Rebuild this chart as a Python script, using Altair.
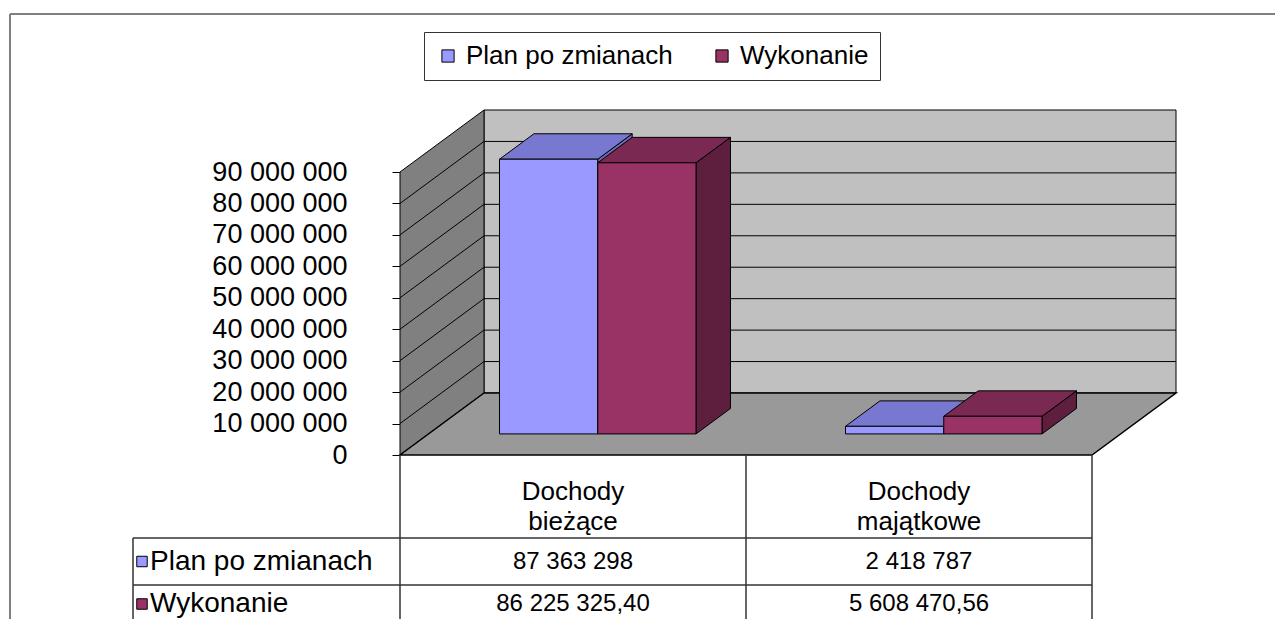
import altair as alt
import pandas as pd

# ---------------- data ----------------
CATEGORIES = ["Dochody bieżące", "Dochody majątkowe"]
SERIES = ["Plan po zmianach", "Wykonanie"]
PLAN = [87363298, 2418787]
WYKONANIE = [86225325.40, 5608470.56]
Y_TICKS = [0, 10000000, 20000000, 30000000, 40000000, 50000000,
           60000000, 70000000, 80000000, 90000000]

FRONT_COLORS = ["#9999FF", "#993366"]
TOP_COLORS = ["#7878D0", "#7A2952"]
SIDE_COLORS = ["#6A6AB8", "#5E1F3F"]
BACK_WALL = "#C0C0C0"
SIDE_WALL = "#808080"
FLOOR = "#999999"
FONT = "Liberation Sans"

# ---------------- layout (plot area and 3D projection) ----------------
W, H = 692, 283
YMAX = 90000000
VPP = YMAX / H          # value units per pixel
UPP = 2 / W             # category units per pixel


def px_y(p):
    return p * VPP


def px_x(p):
    return p * UPP


DX, DY = px_x(84), px_y(62)      # depth of the floor
F0, F1 = 0.34, 0.75              # bar depth slice
BAR_START, BAR_W = 0.205, 0.284  # within one category

XS = alt.Scale(domain=[0, 2], nice=False, zero=False)
YS = alt.Scale(domain=[0, YMAX], nice=False, zero=False)
YAXIS = alt.Axis(
    values=Y_TICKS,
    labelExpr="replace(replace(format(datum.value, ',d'), ',', ' '), ',', ' ')",
    tickSize=8, tickColor="black", domainColor="black", domainWidth=1,
    labelPadding=45, labelFontSize=27, labelFont=FONT, labelColor="black",
    grid=False, title=None, labelOverlap=False,
)


def X(f):
    return alt.X(f, type="quantitative", scale=XS, axis=None)


def Y(f):
    return alt.Y(f, type="quantitative", scale=YS, axis=YAXIS)


def X2(f):
    return alt.X2(f)


def Y2(f):
    return alt.Y2(f)


values = [PLAN, WYKONANIE]

fronts, tops, sides = [], [], []
for ci, cat in enumerate(CATEGORIES):
    for si, s in enumerate(SERIES):
        v = values[si][ci]
        xl = ci + BAR_START + si * BAR_W
        xr = xl + BAR_W
        bid = f"{ci}-{si}"
        fronts.append(dict(series=s, x=xl + F0 * DX, x2=xr + F0 * DX,
                           y=F0 * DY, y2=v + F0 * DY))
        for f in [F0, F1]:
            tops.append(dict(bar=bid, y=v + f * DY, x=xl + f * DX,
                             x2=xr + f * DX, c=TOP_COLORS[si]))
            sides.append(dict(bar=bid, x=xr + f * DX, y=f * DY,
                              y2=v + f * DY, c=SIDE_COLORS[si]))

front_df = pd.DataFrame(fronts)
top_df = pd.DataFrame(tops)
side_df = pd.DataFrame(sides)

back_df = pd.DataFrame([dict(x=DX, x2=2 + DX, y=DY, y2=YMAX + DY)])
sidewall_df = pd.DataFrame([dict(x=0, y=0, y2=YMAX),
                            dict(x=DX, y=DY, y2=YMAX + DY)])
floor_df = pd.DataFrame([dict(y=0, x=0, x2=2),
                         dict(y=DY, x=DX, x2=2 + DX)])
grid_vals = [t for t in Y_TICKS if 0 < t < YMAX]
side_grid_df = pd.DataFrame([dict(x=0, y=t, x2=DX, y2=t + DY) for t in grid_vals])
back_grid_df = pd.DataFrame([dict(x=DX, y=t + DY, x2=2 + DX, y2=t + DY) for t in grid_vals])

# ---------------- data table ----------------
ROW0, ROW1 = px_y(83), px_y(47)
BOTTOM = px_y(164)
HDR = px_x(267)
hlines = pd.DataFrame([
    dict(x=-HDR, x2=2, y=-ROW0),
    dict(x=-HDR, x2=2, y=-ROW0 - ROW1),
])
vlines = pd.DataFrame([dict(x=c, y=0, y2=-BOTTOM) for c in [0, 1, 2]] +
                      [dict(x=-HDR, y=-ROW0, y2=-BOTTOM)])

cat_df = pd.DataFrame([dict(x=ci + 0.5, y=-px_y(37), t=c) for ci, c in enumerate(CATEGORIES)])
row_y = [-px_y(106.5), -px_y(149)]
plan_lab = [f"{v:,.0f}".replace(",", " ") for v in PLAN]
wyk_lab = [f"{v:,.2f}".replace(",", " ").replace(".", ",") for v in WYKONANIE]
labels = [plan_lab, wyk_lab]
val_df = pd.DataFrame([dict(x=ci + 0.5, y=row_y[si], t=labels[si][ci])
                       for si in range(2) for ci in range(2)])
rowhdr_df = pd.DataFrame([dict(x=-HDR + px_x(17), xm=-HDR + px_x(9), y=row_y[si],
                               t=s, c=FRONT_COLORS[si]) for si, s in enumerate(SERIES)])

# ---------------- layers ----------------
frame = alt.Chart(pd.DataFrame([dict(a=1)])).mark_rule(color="#808080", strokeWidth=2)
frame_top = frame.encode(x=alt.value(-390), x2=alt.value(W + 183), y=alt.value(-158))
frame_left = frame.encode(x=alt.value(-390), y=alt.value(-158), y2=alt.value(H + 164))

back = alt.Chart(back_df).mark_rect(fill=BACK_WALL, stroke="black", strokeWidth=1).encode(
    x=X("x"), x2=X2("x2"), y=Y("y"), y2=Y2("y2"))
back_grid = alt.Chart(back_grid_df).mark_rule(color="black", strokeWidth=1).encode(
    x=X("x"), x2=X2("x2"), y=Y("y"), y2=Y2("y2"))
side_wall = alt.Chart(sidewall_df).mark_area(
    orient="vertical", fill=SIDE_WALL, stroke="black", strokeWidth=1, opacity=1).encode(
    x=X("x"), y=Y("y"), y2=Y2("y2"))
side_grid = alt.Chart(side_grid_df).mark_rule(color="black", strokeWidth=1).encode(
    x=X("x"), x2=X2("x2"), y=Y("y"), y2=Y2("y2"))
floor = alt.Chart(floor_df).mark_area(
    orient="horizontal", fill=FLOOR, stroke="black", strokeWidth=1.5, opacity=1).encode(
    y=Y("y"), x=X("x"), x2=X2("x2"))

bar_sides = alt.Chart(side_df).mark_area(
    orient="vertical", stroke="black", strokeWidth=1, opacity=1).encode(
    x=X("x"), y=Y("y"), y2=Y2("y2"), detail="bar:N",
    fill=alt.Fill("c:N", scale=None))
bar_tops = alt.Chart(top_df).mark_area(
    orient="horizontal", stroke="black", strokeWidth=1, opacity=1).encode(
    y=Y("y"), x=X("x"), x2=X2("x2"), detail="bar:N",
    fill=alt.Fill("c:N", scale=None))
bar_fronts = alt.Chart(front_df).mark_rect(stroke="black", strokeWidth=1, opacity=1).encode(
    x=X("x"), x2=X2("x2"), y=Y("y"), y2=Y2("y2"),
    color=alt.Color("series:N", scale=alt.Scale(domain=SERIES, range=FRONT_COLORS),
                    legend=alt.Legend(
                        orient="none", legendX=24, legendY=-140, direction="horizontal",
                        columns=2, title=None, labelFontSize=26, labelFont=FONT,
                        labelColor="black", labelLimit=0, symbolType="square",
                        symbolSize=150, symbolStrokeColor="black", symbolStrokeWidth=1,
                        symbolOpacity=1, strokeColor="#333333", fillColor="white",
                        padding=11, columnPadding=36, labelOffset=5)))

t_h = alt.Chart(hlines).mark_rule(color="#333333", strokeWidth=1.5).encode(
    x=X("x"), x2=X2("x2"), y=Y("y"))
t_v = alt.Chart(vlines).mark_rule(color="#333333", strokeWidth=1.5).encode(
    x=X("x"), y=Y("y"), y2=Y2("y2"))
t_cat = alt.Chart(cat_df).mark_text(
    font=FONT, fontSize=26, color="black", align="center", baseline="middle",
    lineBreak=" ", lineHeight=30).encode(x=X("x"), y=Y("y"), text="t:N")
t_val = alt.Chart(val_df).mark_text(
    font=FONT, fontSize=24, color="black", align="center", baseline="middle").encode(
    x=X("x"), y=Y("y"), text="t:N")
t_rowhdr = alt.Chart(rowhdr_df).mark_text(
    font=FONT, fontSize=28, color="black", align="left", baseline="middle").encode(
    x=X("x"), y=Y("y"), text="t:N")
t_mark = alt.Chart(rowhdr_df).mark_square(size=110, stroke="black", strokeWidth=1, opacity=1).encode(
    x=X("xm"), y=Y("y"), fill=alt.Fill("c:N", scale=None))

chart = alt.layer(
    frame_top, frame_left, back, back_grid, side_wall, side_grid, floor,
    bar_sides, bar_tops, bar_fronts, t_h, t_v, t_cat, t_val, t_rowhdr, t_mark,
).properties(
    width=W, height=H,
    autosize=alt.AutoSizeParams(type="none"),
    padding={"left": 392, "top": 164, "right": 183, "bottom": 164},
    background="white",
).configure_view(stroke=None)

chart.save("out.html", embed_options={"renderer": "svg", "actions": False})
